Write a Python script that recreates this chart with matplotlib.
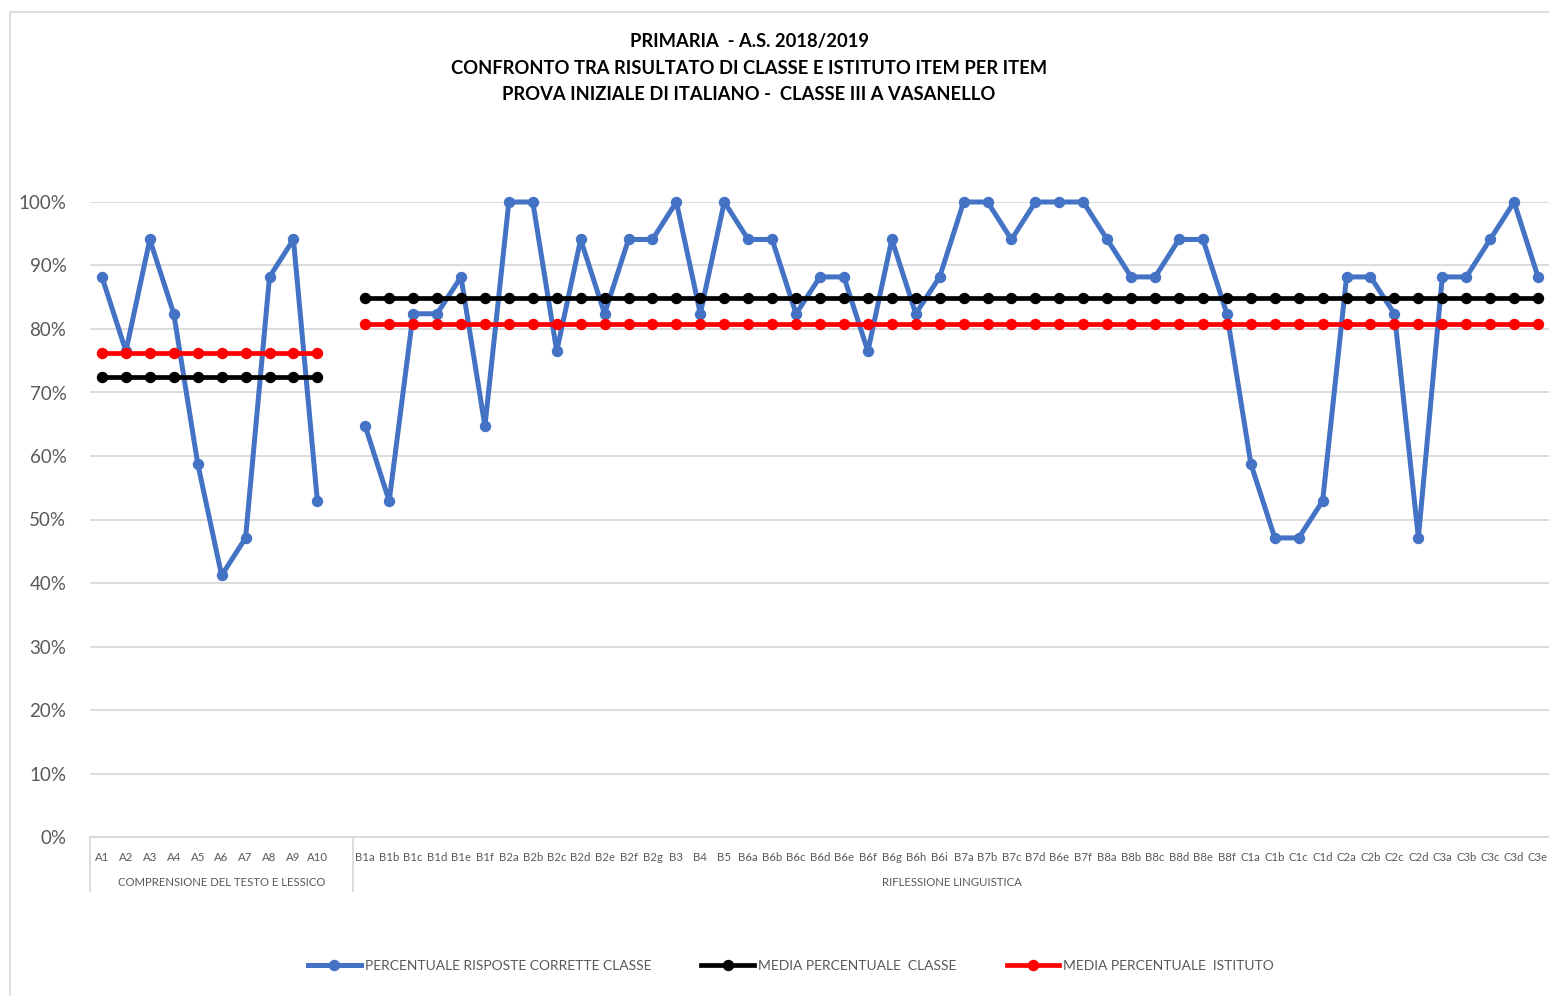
import numpy as np
import matplotlib.pyplot as plt
from matplotlib.patches import Rectangle

plt.rcParams['font.family'] = ['Lato', 'DejaVu Sans']

# categories (a blank slot separates the two groups)
items_a = ['A1', 'A2', 'A3', 'A4', 'A5', 'A6', 'A7', 'A8', 'A9', 'A10']
items_b = ['B1a', 'B1b', 'B1c', 'B1d', 'B1e', 'B1f',
           'B2a', 'B2b', 'B2c', 'B2d', 'B2e', 'B2f', 'B2g',
           'B3', 'B4', 'B5',
           'B6a', 'B6b', 'B6c', 'B6d', 'B6e', 'B6f', 'B6g', 'B6h', 'B6i',
           'B7a', 'B7b', 'B7c', 'B7d', 'B6e', 'B7f',
           'B8a', 'B8b', 'B8c', 'B8d', 'B8e', 'B8f',
           'C1a', 'C1b', 'C1c', 'C1d', 'C2a', 'C2b', 'C2c', 'C2d',
           'C3a', 'C3b', 'C3c', 'C3d', 'C3e']
group_names = ['COMPRENSIONE DEL TESTO E LESSICO', 'RIFLESSIONE LINGUISTICA']

# percentuale risposte corrette classe
classe_a = [88.2, 76.5, 94.1, 82.4, 58.8, 41.2, 47.1, 88.2, 94.1, 52.9]
classe_b = [64.7, 52.9, 82.4, 82.4, 88.2, 64.7,
            100, 100, 76.5, 94.1, 82.4, 94.1, 94.1,
            100, 82.4, 100,
            94.1, 94.1, 82.4, 88.2, 88.2, 76.5, 94.1, 82.4, 88.2,
            100, 100, 94.1, 100, 100, 100,
            94.1, 88.2, 88.2, 94.1, 94.1, 82.4,
            58.8, 47.1, 47.1, 52.9, 88.2, 88.2, 82.4, 47.1,
            88.2, 88.2, 94.1, 100, 88.2]

# medie
media_classe_a = 72.4
media_classe_b = 84.9
media_ist_a = 76.2
media_ist_b = 80.8

labels = items_a + [''] + items_b
n = len(labels)
x = np.arange(n)
blue = classe_a + [np.nan] + classe_b
black = [media_classe_a] * len(items_a) + [np.nan] + [media_classe_b] * len(items_b)
red = [media_ist_a] * len(items_a) + [np.nan] + [media_ist_b] * len(items_b)

W, H = 1549, 996
fig = plt.figure(figsize=(W / 100, H / 100), dpi=100)
ax = fig.add_axes([90 / W, 1 - 837 / H, 1460 / W, 635 / H])

fig.patches.append(Rectangle((10 / W, -0.1), 1.2, 1 - 12 / H + 0.1, transform=fig.transFigure,
                             fill=False, edgecolor='#d9d9d9', linewidth=1.2))

ax.plot(x, blue, color='#4472c4', lw=3.6, marker='o', ms=7.2, zorder=3, clip_on=False,
        label='PERCENTUALE RISPOSTE CORRETTE CLASSE')
ax.plot(x, black, color='black', lw=3.4, marker='o', ms=7.2, zorder=4, clip_on=False,
        label='MEDIA PERCENTUALE  CLASSE')
ax.plot(x, red, color='#ff0000', lw=3.4, marker='o', ms=7.2, zorder=5, clip_on=False,
        label='MEDIA PERCENTUALE  ISTITUTO')

ax.set_xlim(-0.5, n - 0.5)
ax.set_ylim(0, 100)
ax.set_yticks(range(0, 101, 10))
ax.set_yticklabels(['%d%%' % v for v in range(0, 101, 10)], fontsize=13.5, color='#595959')
ax.set_xticks(x)
ax.set_xticklabels(labels, fontsize=8.2, color='#595959')
ax.tick_params(axis='both', length=0)
ax.tick_params(axis='y', pad=17)
ax.tick_params(axis='x', pad=11)
ax.grid(axis='y', color='#d9d9d9', lw=1.3)
ax.set_axisbelow(True)
for s in ['top', 'right', 'left']:
    ax.spines[s].set_visible(False)
ax.spines['bottom'].set_color('#d9d9d9')
ax.spines['bottom'].set_linewidth(1.3)

# group separators and group names below the tick labels
trans = ax.get_xaxis_transform()
sep = [-0.5, len(items_a) + 0.5, n - 0.5]
for s in sep:
    ax.plot([s, s], [0, -54 / 635], transform=trans, color='#d9d9d9', lw=1.3, clip_on=False)
for i, name in enumerate(group_names):
    ax.text((sep[i] + sep[i + 1]) / 2, -45 / 635, name, transform=trans, ha='center', va='center',
            fontsize=8.2, color='#595959')

title = ['PRIMARIA  - A.S. 2018/2019',
         'CONFRONTO TRA RISULTATO DI CLASSE E ISTITUTO ITEM PER ITEM',
         'PROVA INIZIALE DI ITALIANO -  CLASSE III A VASANELLO']
for i, t in enumerate(title):
    fig.text(749 / W, 1 - (42 + 26 * i) / H, t, ha='center', va='center', fontsize=13.2,
             fontweight='bold', color='black')

fig.legend(loc='center', bbox_to_anchor=(791 / W, 1 - 966 / H), ncol=3, frameon=False,
           fontsize=10, labelcolor='#595959', handlelength=3.8, handletextpad=0.3,
           columnspacing=3.6, numpoints=1)

fig.savefig('out.png', dpi=100)
